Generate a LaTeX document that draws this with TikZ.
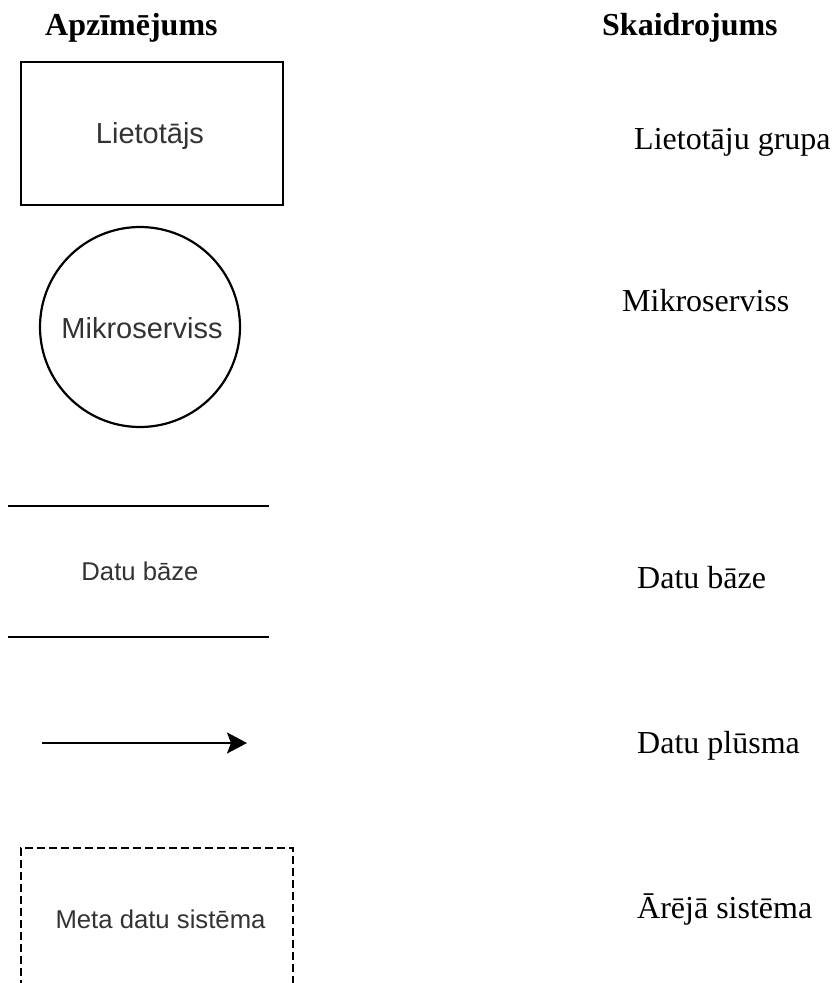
\documentclass[tikz,border=0pt]{standalone}
\usepackage{fontspec}
\setmainfont{Liberation Serif}
\newfontfamily\diofont{Liberation Sans}
\usetikzlibrary{arrows.meta}
\begin{document}
\begin{tikzpicture}[x=1pt,y=-1pt,
  symbox/.style={draw, line width=2.2pt, inner sep=0pt},
  symline/.style={line width=2.2pt},
  lbl/.style={anchor=base, inner sep=0pt, text=black!80, font=\diofont\fontsize{29}{34}\selectfont},
  lblsm/.style={lbl, font=\diofont\fontsize{25.7}{30}\selectfont},
  colhead/.style={anchor=base west, inner sep=0pt, font=\bfseries\fontsize{32}{38}\selectfont},
  expl/.style={anchor=base west, inner sep=0pt, font=\fontsize{32}{38}\selectfont}]
\useasboundingbox (0,0) rectangle (832,983);
\clip (0,0) rectangle (832,983);

% column headings
\node[colhead] (hsym) at (45,35) {Apzīmējums};
\node[colhead] (hexp) at (602,35) {Skaidrojums};

% user group
\node[symbox, minimum width=262pt, minimum height=143pt] (usr) at (152,133.5) {};
\node[lbl] (usrl) at (150,143) {Lietotājs};
\node[expl] (usrx) at (634,149) {Lietotāju grupa};

% microservice
\node[symbox, circle, minimum size=200pt] (svc) at (140,327) {};
\node[lbl] (svcl) at (142,338) {Mikroserviss};
\node[expl] (svcx) at (622,311) {Mikroserviss};

% data store
\coordinate (dbtl) at (8,506);
\coordinate (dbtr) at (269,506);
\coordinate (dbbl) at (8,637);
\coordinate (dbbr) at (269,637);
\draw[symline] (dbtl) -- (dbtr);
\draw[symline] (dbbl) -- (dbbr);
\node[lblsm] (dbl) at (140,580) {Datu bāze};
\node[expl] (dbx) at (637,588) {Datu bāze};

% data flow
\coordinate (fs) at (42,743);
\coordinate (fe) at (247,743);
\draw[symline, -{Stealth[length=20pt,width=21pt,inset=4pt]}] (fs) -- (fe);
\node[expl] (fx) at (637,753) {Datu plūsma};

% external system
\node[symbox, dash pattern=on 8pt off 4pt, minimum width=272pt, minimum height=140pt] (ext) at (157,918) {};
\node[lblsm] (extl) at (160.5,928) {Meta datu sistēma};
\node[expl] (extx) at (637,918) {Ārējā sistēma};
\end{tikzpicture}
\end{document}
